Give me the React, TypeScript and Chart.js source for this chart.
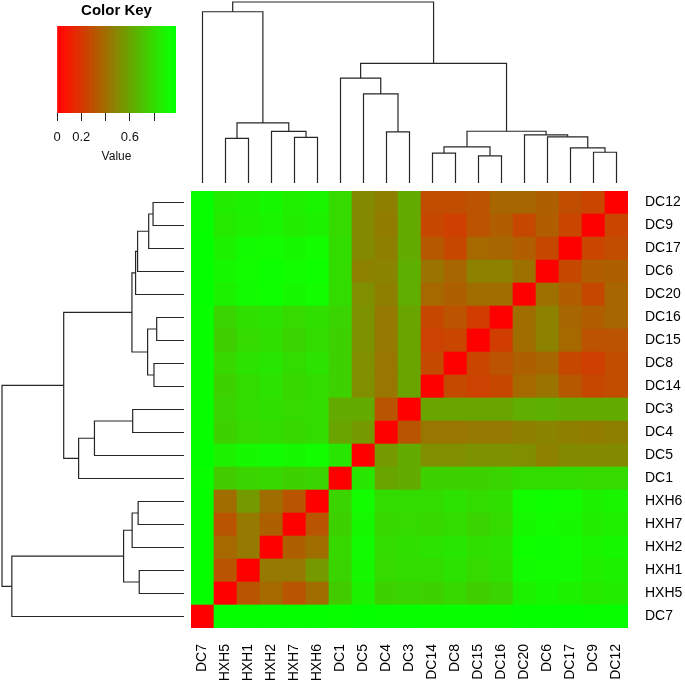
import React, { useEffect, useRef } from 'react';
import { Chart, registerables } from 'chart.js';

Chart.register(...registerables);

// Leaf order (columns left→right, rows bottom→top)
const labels = ['DC7', 'HXH5', 'HXH1', 'HXH2', 'HXH7', 'HXH6', 'DC1', 'DC5', 'DC4', 'DC3', 'DC14', 'DC8', 'DC15', 'DC16', 'DC20', 'DC6', 'DC17', 'DC9', 'DC12'];

// Distance matrix rows (same order as labels)
const rowDC7 = [0, 0.97, 0.97, 0.97, 0.97, 0.97, 0.95, 0.97, 0.96, 0.96, 0.95, 0.95, 0.95, 0.95, 0.97, 0.97, 0.97, 0.96, 0.96];
const rowHXH5 = [0.97, 0, 0.31, 0.38, 0.31, 0.40, 0.74, 0.88, 0.76, 0.77, 0.76, 0.78, 0.75, 0.77, 0.88, 0.90, 0.88, 0.85, 0.86];
const rowHXH1 = [0.97, 0.31, 0, 0.44, 0.44, 0.56, 0.77, 0.90, 0.79, 0.80, 0.80, 0.82, 0.79, 0.81, 0.91, 0.92, 0.91, 0.87, 0.88];
const rowHXH2 = [0.97, 0.38, 0.44, 0, 0.35, 0.40, 0.78, 0.91, 0.80, 0.81, 0.82, 0.84, 0.81, 0.82, 0.93, 0.94, 0.92, 0.89, 0.90];
const rowHXH7 = [0.97, 0.31, 0.44, 0.35, 0, 0.31, 0.76, 0.90, 0.78, 0.79, 0.78, 0.80, 0.77, 0.79, 0.90, 0.92, 0.90, 0.86, 0.87];
const rowHXH6 = [0.97, 0.40, 0.56, 0.40, 0.31, 0, 0.77, 0.92, 0.80, 0.80, 0.80, 0.82, 0.80, 0.81, 0.92, 0.93, 0.92, 0.88, 0.89];
const rowDC1 = [0.95, 0.74, 0.77, 0.78, 0.76, 0.77, 0, 0.84, 0.60, 0.62, 0.76, 0.76, 0.76, 0.77, 0.80, 0.80, 0.80, 0.79, 0.79];
const rowDC5 = [0.97, 0.88, 0.90, 0.91, 0.90, 0.92, 0.84, 0, 0.56, 0.62, 0.52, 0.52, 0.53, 0.53, 0.52, 0.47, 0.50, 0.50, 0.50];
const rowDC4 = [0.96, 0.76, 0.79, 0.80, 0.78, 0.80, 0.60, 0.56, 0, 0.31, 0.43, 0.43, 0.44, 0.44, 0.46, 0.48, 0.46, 0.45, 0.46];
const rowDC3 = [0.96, 0.77, 0.80, 0.81, 0.79, 0.80, 0.62, 0.62, 0.31, 0, 0.60, 0.60, 0.60, 0.60, 0.63, 0.64, 0.62, 0.62, 0.62];
const rowDC14 = [0.95, 0.76, 0.80, 0.82, 0.78, 0.80, 0.76, 0.52, 0.43, 0.60, 0, 0.27, 0.24, 0.26, 0.38, 0.42, 0.32, 0.26, 0.28];
const rowDC8 = [0.95, 0.78, 0.82, 0.84, 0.80, 0.82, 0.76, 0.52, 0.43, 0.60, 0.27, 0, 0.25, 0.30, 0.35, 0.37, 0.26, 0.23, 0.28];
const rowDC15 = [0.95, 0.75, 0.79, 0.81, 0.77, 0.80, 0.76, 0.53, 0.44, 0.60, 0.24, 0.25, 0, 0.22, 0.40, 0.47, 0.38, 0.30, 0.30];
const rowDC16 = [0.95, 0.77, 0.81, 0.82, 0.79, 0.81, 0.77, 0.53, 0.44, 0.60, 0.26, 0.30, 0.22, 0, 0.40, 0.47, 0.37, 0.34, 0.37];
const rowDC20 = [0.97, 0.88, 0.91, 0.93, 0.90, 0.92, 0.80, 0.52, 0.46, 0.63, 0.38, 0.35, 0.40, 0.40, 0, 0.41, 0.34, 0.26, 0.37];
const rowDC6 = [0.97, 0.90, 0.92, 0.94, 0.92, 0.93, 0.80, 0.47, 0.48, 0.64, 0.42, 0.37, 0.47, 0.47, 0.41, 0, 0.26, 0.34, 0.35];
const rowDC17 = [0.97, 0.88, 0.91, 0.92, 0.90, 0.92, 0.80, 0.50, 0.46, 0.62, 0.32, 0.26, 0.38, 0.37, 0.34, 0.26, 0, 0.25, 0.28];
const rowDC9 = [0.96, 0.85, 0.87, 0.89, 0.86, 0.88, 0.79, 0.50, 0.45, 0.62, 0.26, 0.23, 0.30, 0.34, 0.26, 0.34, 0.25, 0, 0.25];
const rowDC12 = [0.96, 0.86, 0.88, 0.90, 0.87, 0.89, 0.79, 0.50, 0.46, 0.62, 0.28, 0.28, 0.30, 0.37, 0.37, 0.35, 0.28, 0.25, 0];

const distance = [rowDC7, rowHXH5, rowHXH1, rowHXH2, rowHXH7, rowHXH6, rowDC1, rowDC5, rowDC4, rowDC3, rowDC14, rowDC8, rowDC15, rowDC16, rowDC20, rowDC6, rowDC17, rowDC9, rowDC12];

// Hierarchical clustering merges (R convention: -k = leaf k (1-based), m = merge m)
const mergeLeft = [-13, -18, -11, -17, 3, -2, -5, -16, -15, -9, -4, 5, 6, -8, -7, 15, -1, 17];
const mergeRight = [-14, -19, -12, 2, 1, -3, -6, 4, 8, -10, 7, 9, 11, 10, 14, 12, 13, 16];
const mergeHeight = [0.15, 0.17, 0.165, 0.194, 0.2, 0.246, 0.252, 0.255, 0.266, 0.282, 0.285, 0.286, 0.332, 0.492, 0.579, 0.661, 0.946, 1.0];

// Colour key
const keyMax = 0.98;
const keyTicks = [0, 0.2, 0.4, 0.6, 0.8];
const keyTickLabels = ['0', '0.2', '', '0.6', ''];
const keyBins = 32;

const FONT = "'Liberation Sans', Arial, Helvetica, sans-serif";
const LINE = '#262626';

function cellColor(v: number): string {
  const t = Math.max(0, Math.min(1, v / keyMax));
  const r = Math.min(255, Math.round(270 * (1 - t)));
  const g = Math.min(255, Math.round(270 * t));
  return `rgb(${r},${g},0)`;
}

type Pt = { p: number; h: number };
function dendroSegments(): Pt[][] {
  const pos: number[] = [];
  const hts: number[] = [];
  const segs: Pt[][] = [];
  const node = (ref: number): Pt => (ref < 0 ? { p: -ref - 1, h: 0 } : { p: pos[ref - 1], h: hts[ref - 1] });
  for (let m = 0; m < mergeHeight.length; m++) {
    const a = node(mergeLeft[m]);
    const b = node(mergeRight[m]);
    const h = mergeHeight[m];
    pos.push((a.p + b.p) / 2);
    hts.push(h);
    segs.push([{ p: a.p, h: a.h }, { p: a.p, h }, { p: b.p, h }, { p: b.p, h: b.h }]);
  }
  return segs;
}

const zeroPad = (s: any) => { s.paddingLeft = 0; s.paddingRight = 0; s.paddingTop = 0; s.paddingBottom = 0; };

const canvasStyle = (left: number, top: number, w: number, h: number): React.CSSProperties => ({
  position: 'absolute', left, top, width: w, height: h, display: 'block',
});

export default function App() {
  const heatRef = useRef<HTMLCanvasElement>(null);
  const topRef = useRef<HTMLCanvasElement>(null);
  const leftRef = useRef<HTMLCanvasElement>(null);
  const keyRef = useRef<HTMLCanvasElement>(null);

  useEffect(() => {
    Chart.defaults.font.family = FONT;
    const charts: Chart[] = [];
    const n = labels.length;

    // Heatmap
    const heatDatasets = distance.map((row, r) => ({
      label: labels[r],
      data: row.map(() => 1),
      backgroundColor: row.map((v) => cellColor(v)),
      borderWidth: 0,
      barPercentage: 1,
      categoryPercentage: 1,
    }));
    charts.push(new Chart(heatRef.current!, {
      type: 'bar',
      data: { labels, datasets: heatDatasets },
      options: {
        animation: false,
        responsive: false,
        devicePixelRatio: 1,
        layout: { padding: 0 },
        plugins: { legend: { display: false }, tooltip: { enabled: false } },
        scales: {
          x: {
            stacked: true,
            grid: { display: false, drawTicks: false },
            border: { display: false },
            ticks: { autoSkip: false, maxRotation: 90, minRotation: 90, padding: 16, color: '#000', font: { size: 14, family: FONT } },
            afterFit: (s: any) => { s.height = 57; zeroPad(s); },
          },
          y: {
            stacked: true,
            position: 'right',
            min: 0,
            max: n,
            grid: { display: false, drawTicks: false },
            border: { display: false },
            afterBuildTicks: (s: any) => { s.ticks = labels.map((_, i) => ({ value: i + 0.5 })); },
            ticks: { autoSkip: false, padding: 17, color: '#000', font: { size: 14, family: FONT }, callback: (_v: any, i: number) => labels[i] },
            afterFit: (s: any) => { s.width = 57; zeroPad(s); },
          },
        },
      },
    } as any));

    const segs = dendroSegments();

    // Top (column) dendrogram
    charts.push(new Chart(topRef.current!, {
      type: 'scatter',
      data: {
        datasets: segs.map((s) => ({
          data: s.map((q) => ({ x: q.p, y: q.h })),
          showLine: true, pointRadius: 0, borderColor: LINE, borderWidth: 1.2, clip: false,
        })),
      },
      options: {
        animation: false, responsive: false, devicePixelRatio: 1,
        layout: { padding: { top: 2, bottom: 8, left: 0, right: 0 } },
        plugins: { legend: { display: false }, tooltip: { enabled: false } },
        scales: {
          x: { type: 'linear', min: -0.5, max: n - 0.5, display: false },
          y: { type: 'linear', min: 0, max: 1, display: false },
        },
      },
    } as any));

    // Left (row) dendrogram
    charts.push(new Chart(leftRef.current!, {
      type: 'scatter',
      data: {
        datasets: segs.map((s) => ({
          data: s.map((q) => ({ x: q.h, y: q.p })),
          showLine: true, pointRadius: 0, borderColor: LINE, borderWidth: 1.2, clip: false,
        })),
      },
      options: {
        animation: false, responsive: false, devicePixelRatio: 1,
        layout: { padding: { top: 0, bottom: 0, left: 2, right: 7 } },
        plugins: { legend: { display: false }, tooltip: { enabled: false } },
        scales: {
          x: { type: 'linear', min: 0, max: 1, reverse: true, display: false },
          y: { type: 'linear', min: -0.5, max: n - 0.5, display: false },
        },
      },
    } as any));

    // Colour key: stacked horizontal bins on the value axis
    const binColors = Array.from({ length: keyBins }, (_, i) => cellColor(((i + 0.5) / keyBins) * keyMax));
    charts.push(new Chart(keyRef.current!, {
      type: 'bar',
      data: {
        labels: ['key'],
        datasets: binColors.map((c) => ({
          data: [keyMax / keyBins], backgroundColor: c, borderWidth: 0, barPercentage: 1, categoryPercentage: 1,
        })),
      },
      options: {
        indexAxis: 'y',
        animation: false, responsive: false, devicePixelRatio: 1,
        layout: { padding: { left: 57, right: 24, top: 0, bottom: 0 } },
        plugins: {
          legend: { display: false }, tooltip: { enabled: false },
          title: { display: true, text: 'Color Key', color: '#000', fullSize: false, font: { size: 15, weight: 'bold', family: FONT }, padding: { top: 2, bottom: 6 } },
        },
        scales: {
          x: {
            type: 'linear', position: 'bottom', stacked: true, min: 0, max: keyMax,
            afterBuildTicks: (s: any) => { s.ticks = keyTicks.map((v) => ({ value: v })); },
            ticks: { autoSkip: false, maxRotation: 0, padding: 9, color: '#111', font: { size: 13, family: FONT }, callback: (_v: any, i: number) => keyTickLabels[i] },
            grid: { display: true, drawOnChartArea: false, drawTicks: true, tickLength: 8, color: '#222', lineWidth: 1 },
            border: { display: false },
            title: { display: true, text: 'Value', color: '#111', font: { size: 12, family: FONT }, padding: { top: 0, bottom: 8 } },
            afterFit: (s: any) => { s.height = 59; zeroPad(s); },
          },
          y: { stacked: true, display: false },
        },
      },
    } as any));

    return () => { charts.forEach((c) => c.destroy()); };
  }, []);

  return (
    <div style={{ position: 'absolute', left: 0, top: 0, width: 685, height: 685, background: '#fff', overflow: 'hidden' }}>
      <canvas ref={keyRef} width={200} height={172} style={canvasStyle(0, 0, 200, 172)} />
      <canvas ref={topRef} width={437} height={191} style={canvasStyle(191, 0, 437, 191)} />
      <canvas ref={leftRef} width={191} height={437} style={canvasStyle(0, 191, 191, 437)} />
      <canvas ref={heatRef} width={494} height={494} style={canvasStyle(191, 191, 494, 494)} />
    </div>
  );
}
